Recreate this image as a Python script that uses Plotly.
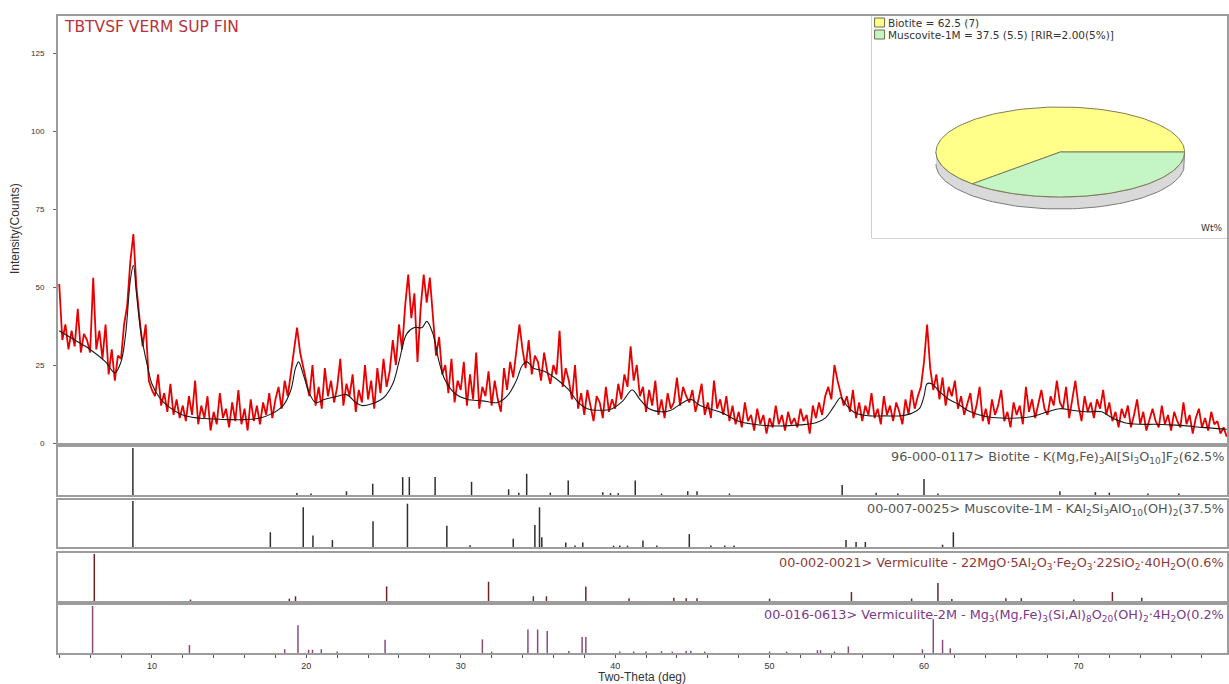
import numpy as np
import plotly.graph_objects as go

# ---------------- data ----------------
SCAN_START = 4.0
SCAN_STEP = 0.2
RED = [
    51, 33, 38, 30, 36,  31, 43, 29, 35, 33,  29, 53, 30, 36, 27,  38, 22, 30, 20, 28,
    27, 38, 44, 58, 67,  50, 40, 31, 38, 20,  17, 15, 22, 12, 16,  10, 19, 9, 14, 8,
    12, 7, 15, 9, 20,  6, 12, 8, 15, 4,  10, 6, 16, 8, 11,  5, 13, 7, 17, 6,
    11, 4, 14, 7, 12,  6, 13, 9, 16, 8,  14, 18, 11, 20, 15,  22, 30, 37, 29, 24,
    20, 15, 25, 12, 18,  11, 24, 15, 20, 13,  18, 27, 12, 19, 15,  22, 10, 17, 13, 25,
    14, 20, 11, 24, 16,  27, 18, 23, 33, 25,  38, 30, 44, 54, 40,  48, 26, 43, 54, 45,
    53, 40, 28, 34, 22,  25, 16, 27, 13, 20,  17, 26, 12, 22, 14,  29, 11, 18, 15, 23,
    12, 20, 14, 10, 24,  17, 26, 21, 30, 38,  30, 24, 33, 22, 28,  26, 20, 29, 23, 19,
    25, 22, 36, 18, 24,  20, 14, 25, 11, 16,  9, 17, 12, 7, 15,  13, 8, 18, 10, 14,
    11, 19, 14, 22, 18,  31, 20, 25, 15, 18,  10, 17, 12, 20, 9,  14, 8, 16, 11, 13,
    21, 12, 18, 15, 13,  17, 10, 14, 19, 9,  13, 8, 20, 11, 14,  9, 15, 7, 12, 6,
    10, 5, 13, 7, 9,  4, 11, 6, 9, 3,  8, 5, 12, 6, 9,  4, 10, 6, 8, 5,
    11, 7, 9, 3, 12,  8, 13, 9, 15, 18,  14, 25, 20, 16, 12,  15, 10, 17, 8, 13,
    7, 12, 9, 16, 8,  11, 6, 15, 9, 12,  7, 13, 10, 6, 14,  9, 17, 11, 15, 18,
    26, 38, 24, 17, 22,  14, 21, 12, 18, 15,  20, 11, 15, 9, 13,  16, 8, 12, 18, 7,
    11, 6, 14, 9, 12,  17, 7, 10, 5, 13,  9, 12, 6, 18, 10,  14, 8, 12, 17, 11,
    9, 15, 12, 20, 13,  11, 18, 8, 14, 20,  12, 7, 15, 10, 13,  8, 14, 11, 17, 9,
    13, 7, 10, 5, 11,  8, 12, 5, 9, 14,  6, 10, 4, 8, 11,  7, 5, 12, 6, 9,
    4, 10, 7, 5, 13,  6, 9, 3, 8, 11,  5, 8, 4, 10, 6,  7, 3, 5, 2,
]
BG_X = [4.0, 5.0, 6.0, 7.0, 7.6, 8.0, 8.3, 8.6, 8.8, 9.0, 9.3, 9.7, 10.0, 10.5, 11.0, 12.0,
        13.0, 14.0, 15.0, 16.0, 17.0, 17.8, 18.5, 19.0, 19.3, 19.5, 19.8, 20.2, 20.6, 21.2,
        22.0, 22.6, 23.2, 23.6, 24.2, 25.0, 25.6, 26.0, 26.5, 27.0, 27.5, 27.8, 28.2, 28.6,
        29.0, 29.6, 30.4, 31.4, 32.4, 33.0, 33.6, 34.0, 34.3, 34.7, 35.4, 36.2, 37.0, 37.6,
        38.2, 39.0, 39.8, 40.5, 41.1, 41.6, 42.2, 43.0, 43.6, 44.4, 44.9, 45.5, 46.1, 47.0,
        48.0, 49.0, 50.0, 51.0, 52.0, 53.0, 53.6, 54.2, 54.6, 55.0, 55.6, 56.5, 57.5, 58.5,
        59.2, 59.7, 60.0, 60.2, 60.5, 61.0, 61.6, 62.2, 63.0, 64.0, 65.0, 66.0, 67.0, 68.0,
        68.8, 69.6, 70.5, 71.5, 72.2, 73.0, 74.0, 75.0, 76.0, 77.0, 78.0, 79.0, 79.6]
BG_Y = [36, 33, 30, 26, 22.5, 26, 35, 52, 57, 48, 35, 25, 19, 14.5, 12, 9,
        8, 7.7, 7.5, 7.5, 8, 9.5, 12, 17, 24, 26, 22, 16, 13, 14,
        15, 15.5, 13, 12, 12.5, 14.5, 19, 26, 35, 37, 37, 39, 35, 26,
        20, 16, 14, 13.5, 13, 15, 20, 25, 26, 24, 23, 20.5, 17, 13,
        11, 10.5, 11, 13.5, 17, 14, 11, 10, 10.5, 13, 14, 12, 11, 9.5,
        7, 6, 5.5, 5.5, 5.8, 6.5, 8, 12, 14.5, 12, 9.5, 8.7, 8.7, 8.7,
        9.5, 11, 15, 19, 19, 16.5, 14, 12.5, 10, 8.5, 8, 8, 8.5, 10,
        11, 10.5, 10, 10, 8, 6.5, 6, 6, 5.8, 5.5, 5, 4.6, 4.4]

BIO_POS = [8.77, 19.39, 20.3, 22.6, 24.3, 26.24, 26.67, 28.34, 30.7, 33.1, 33.76, 34.27, 35.8,
           36.96, 39.2, 39.7, 40.2, 41.3, 43.0, 44.7, 45.3, 47.4, 54.7, 56.9, 58.3, 60.0, 60.9,
           68.8, 71.1, 72.0, 74.5, 76.5]
BIO_INT = [100, 4, 3, 8, 24, 38, 38, 38, 28, 12, 5, 45, 5,
           31, 6, 4, 4, 31, 3, 8, 8, 3, 21, 5, 3, 34, 3,
           8, 6, 5, 3, 3]
MUS_POS = [8.77, 17.67, 19.8, 20.43, 21.69, 24.32, 26.55, 29.1, 30.6, 33.4, 34.8, 35.1, 35.25,
           36.8, 37.4, 37.9, 39.9, 40.3, 40.8, 41.8, 42.7, 44.8, 46.2, 47.1, 47.7, 54.95, 55.6,
           56.2, 61.2, 61.9]
MUS_INT = [100, 32, 86, 25, 15, 56, 94, 46, 4, 18, 48, 86, 21,
           10, 3, 10, 3, 3, 3, 14, 3, 28, 3, 3, 3, 15, 11,
           11, 5, 32]
VER_POS = [6.27, 12.5, 18.9, 19.3, 25.2, 31.8, 34.7, 35.55, 38.1, 40.9, 43.8, 44.6, 45.3, 50.0,
           55.3, 59.2, 60.9, 61.8, 65.3, 66.3, 69.7, 72.2, 74.1]
VER_INT = [100, 3, 5, 10, 31, 41, 10, 10, 31, 6, 7, 6, 6, 5,
           19, 5, 38, 4, 6, 6, 3, 19, 7]
V2M_POS = [6.16, 12.43, 18.6, 19.46, 20.15, 20.4, 20.97, 22.0, 25.1, 31.4, 32.0, 34.35, 34.98,
           35.6, 37.0, 37.86, 38.1, 40.3, 41.2, 42.0, 43.0, 43.7, 44.6, 44.9, 45.8, 50.0, 51.1,
           53.1, 53.3, 54.2, 55.1, 59.9, 60.6, 61.2, 61.7]
V2M_INT = [100, 17, 8, 59, 7, 7, 8, 3, 28, 29, 3, 50, 50,
           47, 4, 34, 34, 3, 3, 3, 4, 3, 5, 5, 3, 3, 3,
           6, 6, 3, 14, 8, 72, 28, 10]

PANEL_LABELS = [
    "96-000-0117> Biotite - K(Mg,Fe)<sub>3</sub>Al[Si<sub>3</sub>O<sub>10</sub>]F<sub>2</sub>(62.5%",
    "00-007-0025> Muscovite-1M - KAl<sub>2</sub>Si<sub>3</sub>AlO<sub>10</sub>(OH)<sub>2</sub>(37.5%",
    "00-002-0021> Vermiculite - 22MgO·5Al<sub>2</sub>O<sub>3</sub>·Fe<sub>2</sub>O<sub>3</sub>·22SiO<sub>2</sub>·40H<sub>2</sub>O(0.6%",
    "00-016-0613> Vermiculite-2M - Mg<sub>3</sub>(Mg,Fe)<sub>3</sub>(Si,Al)<sub>8</sub>O<sub>20</sub>(OH)<sub>2</sub>·4H<sub>2</sub>O(0.2%",
]
PIE_LABELS = ["Biotite = 62.5 (7)", "Muscovite-1M = 37.5 (5.5) [RIR=2.00(5%)]"]
PIE_VALUES = [62.5, 37.5]
TITLE = "TBTVSF VERM SUP FIN"

# ---------------- styles ----------------
FONT = "Liberation Sans, Arial, sans-serif"
WIDE = "DejaVu Sans, Verdana, sans-serif"
STICK_COLORS = ["#2e2e2e", "#2e2e2e", "#6e2424", "#8a4a80"]
LABEL_COLORS = ["#555555", "#555555", "#8e3a3a", "#7a3a8a"]
PIE_COLORS = ["#ffff8a", "#c4f5c4"]
FRAME = "#9c9c9c"

W, H = 1229, 684
L, R, T, B = 58, 0, 16, 31
PH = H - T - B


def py(ypx):
    return (H - B - ypx) / PH


def px(xpx):
    return (xpx - L) / (W - L - R)


MAIN_DOM = [py(443), 1.0]
PANEL_DOMS = [[py(495), py(447)], [py(547), py(500)], [py(601), py(553)], [py(653), py(605)]]
XR = [3.92, 79.62]

fig = go.Figure()

# main pattern
x_red = SCAN_START + SCAN_STEP * np.arange(len(RED))
fig.add_trace(go.Scatter(x=x_red, y=RED, mode="lines", line=dict(color="#e80000", width=1.8),
                         xaxis="x", yaxis="y", showlegend=False, hoverinfo="skip"))
fig.add_trace(go.Scatter(x=BG_X, y=BG_Y, mode="lines", line=dict(color="#1a1a1a", width=1.1, shape="spline"),
                         xaxis="x", yaxis="y", showlegend=False, hoverinfo="skip"))


def sticks(pos, inten):
    xs, ys = [], []
    for p, h in zip(pos, inten):
        xs += [p, p, None]
        ys += [0, h, None]
    return xs, ys


panels = [(BIO_POS, BIO_INT), (MUS_POS, MUS_INT), (VER_POS, VER_INT), (V2M_POS, V2M_INT)]
for i, (pos, inten) in enumerate(panels):
    xs, ys = sticks(pos, inten)
    fig.add_trace(go.Scatter(x=xs, y=ys, mode="lines", line=dict(color=STICK_COLORS[i], width=1.5),
                             xaxis="x%d" % (i + 2), yaxis="y%d" % (i + 2), showlegend=False,
                             hoverinfo="skip"))

# pie (flattened 3D look) on its own axes
cx_px, cy_px, rx_px, ry_px, thick_px = 1062, 152, 124.5, 45, 12
box = dict(x0=873, x1=1229, y0=16, y1=238)
pie_xr = [-(cx_px - box["x0"]) / rx_px, (box["x1"] - cx_px) / rx_px]
pie_yr = [-(box["y1"] - cy_px) / ry_px, (cy_px - box["y0"]) / ry_px]
t = thick_px / ry_px

a = np.linspace(np.pi, 2 * np.pi, 80)
rim_x = list(np.cos(a)) + list(np.cos(a[::-1]))
rim_y = list(np.sin(a)) + list(np.sin(a[::-1]) - t)
fig.add_trace(go.Scatter(x=rim_x, y=rim_y, fill="toself", fillcolor="#d9d9d9", mode="lines",
                         line=dict(color="#7a7a7a", width=1), xaxis="x6", yaxis="y6",
                         showlegend=False, hoverinfo="skip"))
total = sum(PIE_VALUES)
start = 0.0
for v, c in zip(PIE_VALUES, PIE_COLORS):
    span = v / total * 2 * np.pi
    aa = np.linspace(start, start + span, 120)
    xs = [0] + list(np.cos(aa)) + [0]
    ys = [0] + list(np.sin(aa)) + [0]
    fig.add_trace(go.Scatter(x=xs, y=ys, fill="toself", fillcolor=c, mode="lines",
                             line=dict(color="#7d7d55", width=1), xaxis="x6", yaxis="y6",
                             showlegend=False, hoverinfo="skip"))
    start += span

axis_common = dict(showgrid=False, zeroline=False, showline=True, mirror=True,
                   linecolor=FRAME, linewidth=2)

layout = dict(
    width=W, height=H, margin=dict(l=L, r=R, t=T, b=B),
    paper_bgcolor="white", plot_bgcolor="white",
    font=dict(family=FONT, color="#333333"),
    xaxis=dict(domain=[0, 1], range=XR, showticklabels=False, ticks="", anchor="y", **axis_common),
    yaxis=dict(domain=MAIN_DOM, range=[0, 136.9], tickvals=[0, 25, 50, 75, 100, 125],
               ticks="outside", ticklen=3, tickcolor="#666666", ticklabelstandoff=7,
               tickfont=dict(size=8, color="#333333"), anchor="x", **axis_common),
    xaxis6=dict(domain=[px(box["x0"]), 1.0], range=pie_xr, visible=False, anchor="y6"),
    yaxis6=dict(domain=[py(box["y1"]), 1.0], range=pie_yr, visible=False, anchor="x6"),
)
for i in range(4):
    n = i + 2
    last = (i == 3)
    layout["xaxis%d" % n] = dict(domain=[0, 1], range=XR, anchor="y%d" % n,
                                 showticklabels=last, ticks="outside" if last else "",
                                 tickvals=[10, 20, 30, 40, 50, 60, 70], ticklen=3,
                                 tickcolor="#555555", tickfont=dict(size=9, color="#333333"),
                                 minor=dict(dtick=2, tick0=0, ticks="outside", ticklen=3,
                                            tickcolor="#555555") if last else None,
                                 **axis_common)
    layout["yaxis%d" % n] = dict(domain=PANEL_DOMS[i], range=[0, 102], anchor="x%d" % n,
                                 showticklabels=False, ticks="", **axis_common)
fig.update_layout(**layout)

shapes = [
    dict(type="rect", xref="paper", yref="paper", x0=px(box["x0"]), x1=1.0,
         y0=py(box["y1"]), y1=1.0, fillcolor="#fffff2", line=dict(color="#a8a8a8", width=1),
         layer="below"),
]
ann = [
    dict(text=TITLE, xref="paper", yref="paper", x=px(62), y=py(16), xanchor="left", yanchor="top",
         showarrow=False, font=dict(size=15.5, color="#b8323c", family=WIDE)),
    dict(text="Intensity(Counts)", xref="paper", yref="paper", x=px(15), y=py(229),
         xanchor="center", yanchor="middle",
         textangle=-90, showarrow=False, font=dict(size=12, color="#333333", family=FONT)),
    dict(text="Two-Theta (deg)", xref="paper", yref="paper", x=px(643), y=py(677),
         xanchor="center", yanchor="middle",
         showarrow=False, font=dict(size=12, color="#333333", family=FONT)),
    dict(text="Wt%", xref="paper", yref="paper", x=px(1226), y=py(228), xanchor="right",
         yanchor="middle", showarrow=False, font=dict(size=9, color="#333333", family=WIDE)),
]
for i, (lab, col) in enumerate(zip(PIE_LABELS, PIE_COLORS)):
    ytop = 18 + i * 12
    shapes.append(dict(type="rect", xref="paper", yref="paper", x0=px(876), x1=px(886),
                       y0=py(ytop + 9), y1=py(ytop), fillcolor=col,
                       line=dict(color="#6b6b45", width=1)))
    ann.append(dict(text=lab, xref="paper", yref="paper", x=px(887), y=py(ytop + 4.5),
                    xanchor="left", yanchor="middle", showarrow=False,
                    font=dict(size=10.5, color="#333333", family=WIDE)))
for i, (lab, col) in enumerate(zip(PANEL_LABELS, LABEL_COLORS)):
    ann.append(dict(text=lab, xref="paper", yref="y%d domain" % (i + 2), x=0.999, y=0.79,
                    xanchor="right", yanchor="middle", showarrow=False,
                    font=dict(size=12.8, color=col, family=WIDE)))
fig.update_layout(shapes=shapes, annotations=ann)

fig.write_html("out.html", config={"displayModeBar": False},
               post_script="document.body.style.margin='0';")
